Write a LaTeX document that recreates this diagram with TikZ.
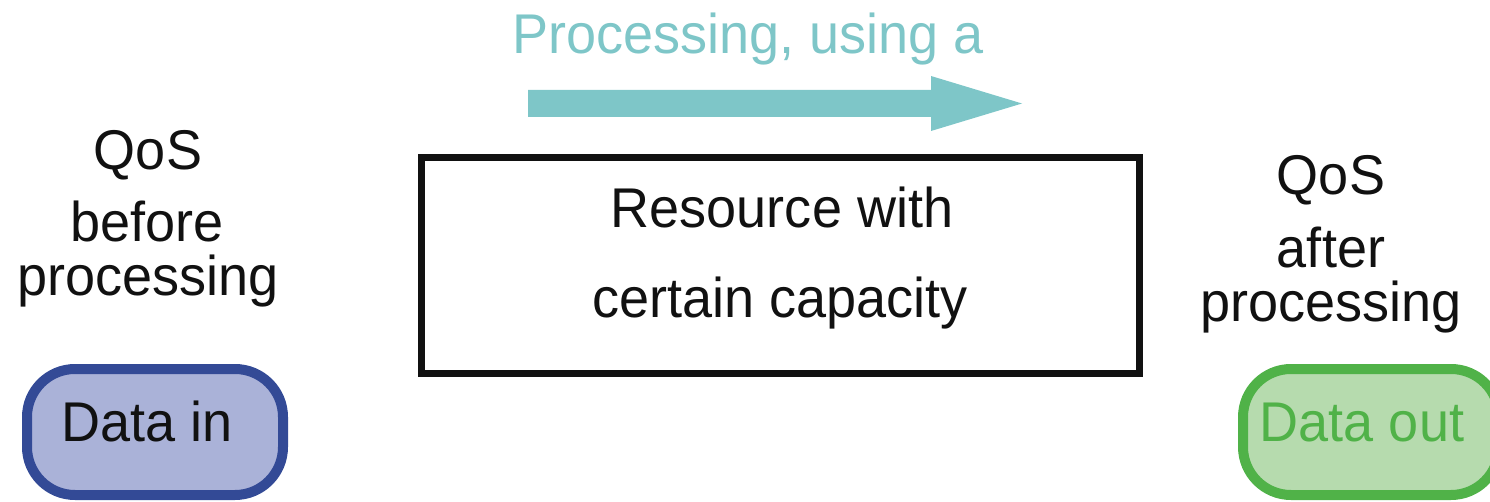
\documentclass[tikz,border=0pt]{standalone}
\usepackage{fontspec}
\setmainfont[FakeStretch=0.965]{Liberation Sans}
\usepackage{tikz}
\definecolor{ink}{RGB}{17,17,17}
\definecolor{flowteal}{RGB}{126,198,200}
\definecolor{infill}{RGB}{170,178,216}
\definecolor{indraw}{RGB}{51,74,150}
\definecolor{outfill}{RGB}{182,219,174}
\definecolor{outdraw}{RGB}{80,178,72}

\begin{document}
\begin{tikzpicture}[x=1pt, y=-1pt,
  lbl/.style={anchor=base, inner sep=0pt, text=ink, font=\fontsize{56}{60}\selectfont},
  databox/.style={rounded corners=48pt, line width=10pt, minimum width=256pt, minimum height=126pt}]
\clip (0,0) rectangle (1490,502);

% title and flow arrow
\node (title) at (748, 54) [lbl, text=flowteal] {Processing, using a};
\fill[flowteal] (528,90) -- (931,90) -- (931,76) -- (1022,103.5) -- (931,131) -- (931,117) -- (528,117) -- cycle;

% resource
\node (res) at (780, 265.5) [draw=ink, line width=7pt, minimum width=718pt, minimum height=215pt] {};
\node (res1) at (782, 228) [lbl] {Resource with};
\node (res2) at (780, 318) [lbl] {certain capacity};

% left side
\node (qin) at (148, 170) [lbl] {QoS};
\node (bef) at (147, 242) [lbl] {before};
\node (procin) at (148, 296) [lbl] {processing};
\node (datain) at (155, 432) [databox, draw=indraw, fill=infill] {};
\node (dinlbl) at (147, 441) [lbl] {Data in};

% right side
\node (qout) at (1331, 195) [lbl] {QoS};
\node (aft) at (1331, 268) [lbl] {after};
\node (procout) at (1331, 322) [lbl] {processing};
\node (dataout) at (1371, 432) [databox, draw=outdraw, fill=outfill] {};
\node (doutlbl) at (1362, 441) [lbl, text=outdraw] {Data out};
\end{tikzpicture}
\end{document}
